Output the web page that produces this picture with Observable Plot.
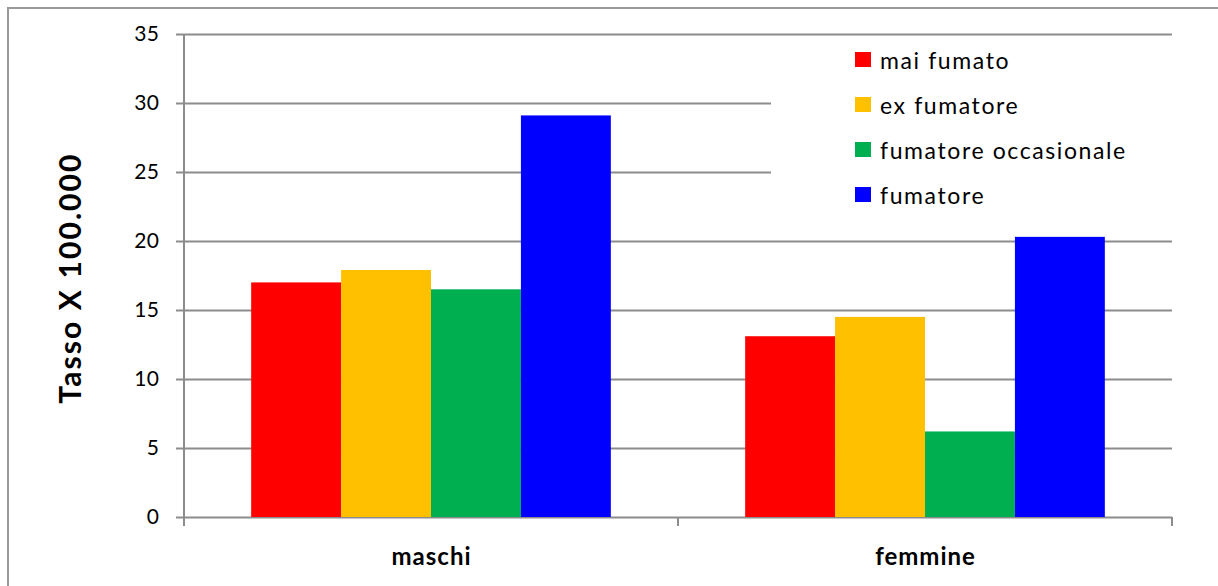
<!DOCTYPE html>
<html><head><meta charset="utf-8">
<script src="https://cdn.jsdelivr.net/npm/d3@7"></script>
<script src="https://cdn.jsdelivr.net/npm/@observablehq/plot@0.6"></script>
<style>
html,body{margin:0;padding:0;background:#fff;overflow:hidden;width:1218px;height:586px;}
#wrap{position:relative;width:1218px;height:586px;font-family:Lato, sans-serif;color:#000;}
#border{position:absolute;left:7px;top:7px;width:1300px;height:700px;border:2px solid #9a9a9a;box-sizing:border-box;}
#chart{position:absolute;left:0;top:0;}
#ylabel{position:absolute;left:69px;top:278px;transform:translate(-50%,-50%) rotate(-90deg);font-weight:700;font-size:30px;letter-spacing:2.1px;white-space:nowrap;}
#legend{position:absolute;left:771px;top:37px;width:401px;height:188px;background:#fff;box-sizing:border-box;padding-left:84px;}
.item{height:45px;display:flex;align-items:center;font-size:23px;letter-spacing:1.6px;}
.sw{width:16px;height:15px;margin-right:9px;flex:none;}
g[aria-label="fx-axis tick label"] text{letter-spacing:1px;}
g[aria-label="y-axis tick label"] text{letter-spacing:0.5px;}
</style></head>
<body>
<div id="wrap">
  <div id="border"></div>
  <div id="chart"></div>
  <div id="ylabel"></div>
  <div id="legend"></div>
</div>
<script>
const genders = ["maschi", "femmine"];
const series = ["mai fumato", "ex fumatore", "fumatore occasionale", "fumatore"];
const colors = ["#FF0000", "#FFC000", "#00B050", "#0000FF"];
const maschiValues = [17.0, 17.9, 16.5, 29.1];
const femmineValues = [13.1, 14.5, 6.2, 20.3];
const yTicks = [0, 5, 10, 15, 20, 25, 30, 35];
const yLabel = "Tasso X 100.000";

const valuesByGender = [maschiValues, femmineValues];
const data = genders.flatMap((g, i) => series.map((s, j) => ({gender: g, series: s, value: valuesByGender[i][j]})));

const gray = "#8c8c8c";
const tickLen = 9;

function edgeLine(side, facetAnchor, full) {
  return Plot.frame({
    facetAnchor,
    render: (index, scales, values, dims) => {
      const x = side === "left" ? dims.marginLeft : dims.width - dims.marginRight;
      const yb = dims.height - dims.marginBottom;
      return d3.create("svg:line")
        .attr("x1", x).attr("x2", x)
        .attr("y1", full ? dims.marginTop : yb)
        .attr("y2", yb + tickLen)
        .attr("stroke", gray).attr("stroke-width", 2)
        .node();
    }
  });
}

const chart = Plot.plot({
  width: 1218,
  height: 586,
  marginLeft: 183,
  marginRight: 46,
  marginTop: 34,
  marginBottom: 69,
  style: {fontFamily: "Lato, sans-serif", color: "#000", background: "transparent"},
  fx: {domain: genders, padding: 0, label: null},
  x: {domain: series, paddingInner: 0, paddingOuter: 0.747, round: false, axis: null},
  y: {domain: [0, 35], label: null},
  color: {domain: series, range: colors},
  marks: [
    Plot.gridY(yTicks, {stroke: gray, strokeOpacity: 1, strokeWidth: 2}),
    Plot.barY(data, {fx: "gender", x: "series", y: "value", fill: "series"}),
    Plot.axisY(yTicks, {tickSize: 8, tickPadding: 17, fontSize: 21, stroke: gray, strokeWidth: 2, label: null}),
    Plot.axisFx({anchor: "bottom", tickSize: 0, tickPadding: 30, fontSize: 24, fontWeight: "bold", label: null}),
    edgeLine("left", "left", true),
    edgeLine("left", null, false),
    edgeLine("right", "right", false)
  ]
});
document.getElementById("chart").appendChild(chart);

document.getElementById("ylabel").textContent = yLabel;
const legend = document.getElementById("legend");
series.forEach((s, i) => {
  const item = document.createElement("div");
  item.className = "item";
  const sw = document.createElement("span");
  sw.className = "sw";
  sw.style.background = colors[i];
  const t = document.createElement("span");
  t.textContent = s;
  item.appendChild(sw);
  item.appendChild(t);
  legend.appendChild(item);
});
</script>
</body></html>
